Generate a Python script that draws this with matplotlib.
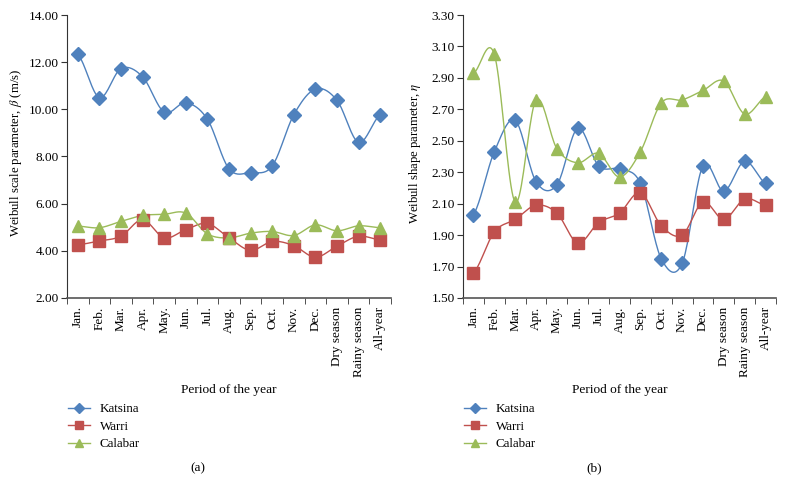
import numpy as np
import matplotlib
matplotlib.use("Agg")
import matplotlib.pyplot as plt
from matplotlib.lines import Line2D

plt.rcParams["font.family"] = ["Liberation Serif", "DejaVu Serif"]
plt.rcParams["mathtext.fontset"] = "stix"

"""
__Data__
"""
periods = ["Jan.", "Feb.", "Mar.", "Apr.", "May.", "Jun.", "Jul.", "Aug.", "Sep.",
           "Oct.", "Nov.", "Dec.", "Dry season", "Rainy season", "All-year"]

# (a) Weibull scale parameter (m/s)
scale_katsina = [12.33, 10.50, 11.73, 11.38, 9.88, 10.28, 9.58, 7.48, 7.32, 7.60, 9.77, 10.86, 10.38, 8.60, 9.76]
scale_warri = [4.26, 4.42, 4.62, 5.32, 4.55, 4.90, 5.16, 4.55, 4.02, 4.40, 4.22, 3.73, 4.20, 4.62, 4.46]
scale_calabar = [5.05, 4.98, 5.25, 5.50, 5.55, 5.60, 4.72, 4.55, 4.75, 4.82, 4.65, 5.10, 4.85, 5.06, 4.98]

# (b) Weibull shape parameter
shape_katsina = [2.03, 2.43, 2.63, 2.24, 2.22, 2.58, 2.34, 2.32, 2.23, 1.75, 1.72, 2.34, 2.18, 2.37, 2.23]
shape_warri = [1.66, 1.92, 2.00, 2.09, 2.04, 1.85, 1.98, 2.04, 2.17, 1.96, 1.90, 2.11, 2.00, 2.13, 2.09]
shape_calabar = [2.93, 3.05, 2.11, 2.76, 2.45, 2.36, 2.42, 2.27, 2.43, 2.74, 2.76, 2.82, 2.88, 2.67, 2.78]

stations = ["Katsina", "Warri", "Calabar"]
colors = ["#4F81BD", "#C0504D", "#9BBB59"]
markers = ["D", "s", "^"]
msizes = [7.5, 9, 9]


def smooth(y, n=20):
    # Excel-style smoothed line (Catmull-Rom through the points)
    y = np.asarray(y, dtype=float)
    p = np.concatenate([[y[0]], y, [y[-1]]])
    xs, ys = [], []
    for i in range(len(y) - 1):
        p0, p1, p2, p3 = p[i], p[i + 1], p[i + 2], p[i + 3]
        t = np.linspace(0, 1, n, endpoint=False)
        yy = 0.5 * ((2 * p1) + (-p0 + p2) * t + (2 * p0 - 5 * p1 + 4 * p2 - p3) * t ** 2
                    + (-p0 + 3 * p1 - 3 * p2 + p3) * t ** 3)
        xs.append(i + t)
        ys.append(yy)
    xs.append([len(y) - 1])
    ys.append([y[-1]])
    return np.concatenate(xs), np.concatenate(ys)


W, H = 786, 482
fig = plt.figure(figsize=(W / 100, H / 100), dpi=100)


def panel(left, right, series, ylim, yticks, ylabel, ylabel_x, tag):
    ax = fig.add_axes([left / W, (H - 298) / H, (right - left) / W, (298 - 15) / H])
    x = np.arange(len(periods))
    for vals, c, m, ms in zip(series, colors, markers, msizes):
        sx, sy = smooth(vals)
        ax.plot(sx, sy, color=c, lw=1.0, zorder=2)
        ax.plot(x, vals, linestyle="", marker=m, ms=ms, color=c, mec=c, zorder=3)

    ax.set_xlim(-0.5, len(periods) - 0.5)
    ax.set_ylim(*ylim)
    ax.set_yticks(yticks)
    ax.set_yticklabels([f"{v:.2f}" for v in yticks], fontsize=9.5)
    ax.set_xticks(x)
    ax.set_xticklabels(periods, rotation=90, fontsize=9.5)
    ax.set_xticks(np.arange(len(periods) + 1) - 0.5, minor=True)
    ax.tick_params(axis="x", which="major", length=0, pad=6)
    ax.tick_params(axis="x", which="minor", length=4, direction="out", color="#333333")
    ax.tick_params(axis="y", length=4, direction="out", color="#333333", pad=2)

    for s in ["top", "right"]:
        ax.spines[s].set_visible(False)
    ax.spines["left"].set_color("#333333")
    ax.spines["left"].set_linewidth(0.8)
    ax.spines["bottom"].set_color("#555555")
    ax.spines["bottom"].set_linewidth(1.2)

    fig.text(ylabel_x / W, 1 - 153 / H, ylabel, rotation=90, ha="center", va="center", fontsize=9.2)
    fig.text((left + right) / 2 / W, 1 - 390 / H, "Period of the year", ha="center", va="center", fontsize=9.6)
    fig.text((left + 131) / W, 1 - 468 / H, tag, ha="center", va="center", fontsize=9.6)

    handles = [Line2D([], [], color=c, marker=m, ms=ms * 0.7, mec=c, lw=1.0)
               for c, m, ms in zip(colors, markers, msizes)]
    ax.legend(handles, stations, loc="upper left", frameon=False, fontsize=9.4,
              bbox_to_anchor=((left - 4) / W, 1 - 398 / H), bbox_transform=fig.transFigure,
              handlelength=1.7, handletextpad=0.7, labelspacing=0.4, borderaxespad=0)
    return ax


panel(67, 391, [scale_katsina, scale_warri, scale_calabar], (2.0, 14.0),
      np.arange(2.0, 14.01, 2.0), r"Weibull scale parameter, $\beta$ (m/s)", 16, "(a)")
panel(463, 776, [shape_katsina, shape_warri, shape_calabar], (1.5, 3.3),
      np.arange(1.5, 3.31, 0.2), r"Weibull shape parameter, $\eta$", 415, "(b)")

plt.savefig("out.png", dpi=100)
